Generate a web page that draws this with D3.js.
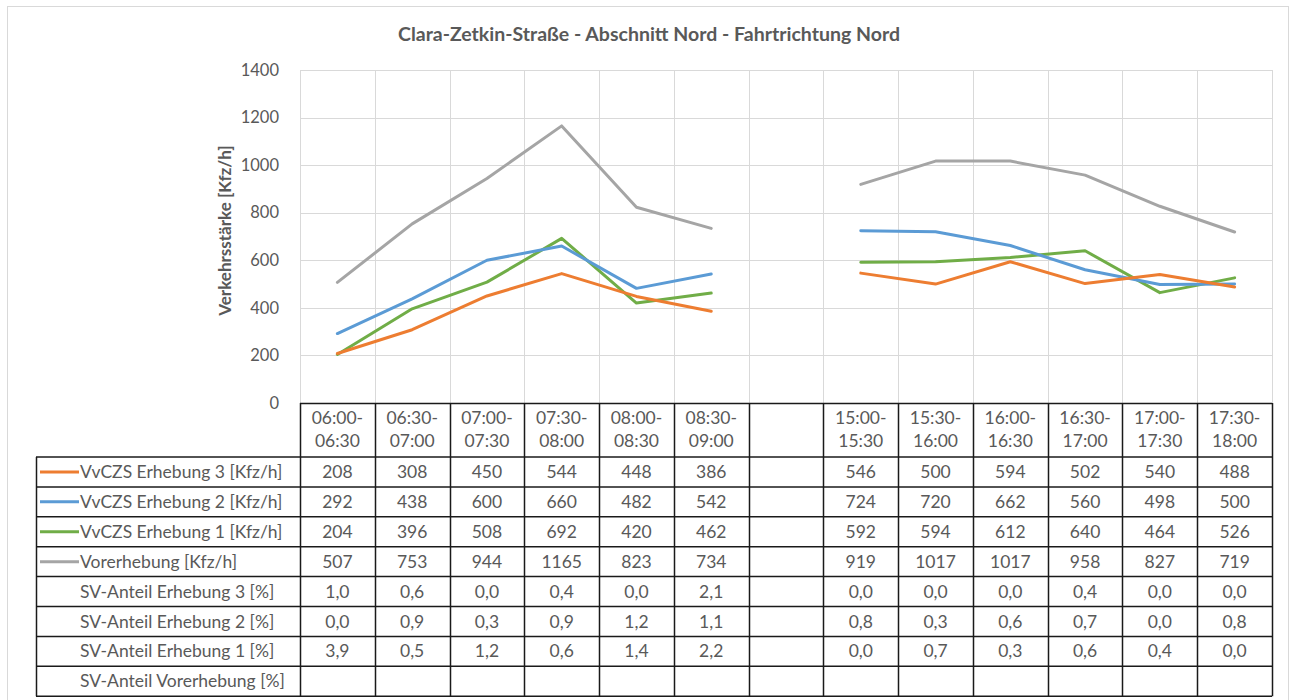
<!DOCTYPE html>
<html>
<head>
<meta charset="utf-8">
<script src="https://cdn.jsdelivr.net/npm/d3@7"></script>
<style>
  html, body { margin: 0; padding: 0; background: #fff; }
  svg { display: block; font-family: Lato, "Open Sans", sans-serif; }
</style>
</head>
<body>
<svg id="chart" width="1293" height="700"></svg>
<script>
// ---- data ----
const categories = ["06:00-06:30", "06:30-07:00", "07:00-07:30", "07:30-08:00", "08:00-08:30", "08:30-09:00", "",
                    "15:00-15:30", "15:30-16:00", "16:00-16:30", "16:30-17:00", "17:00-17:30", "17:30-18:00"];
const erhebung3 = [208, 308, 450, 544, 448, 386, null, 546, 500, 594, 502, 540, 488];
const erhebung2 = [292, 438, 600, 660, 482, 542, null, 724, 720, 662, 560, 498, 500];
const erhebung1 = [204, 396, 508, 692, 420, 462, null, 592, 594, 612, 640, 464, 526];
const vorerhebung = [507, 753, 944, 1165, 823, 734, null, 919, 1017, 1017, 958, 827, 719];
const svAnteil3 = [1.0, 0.6, 0.0, 0.4, 0.0, 2.1, null, 0.0, 0.0, 0.0, 0.4, 0.0, 0.0];
const svAnteil2 = [0.0, 0.9, 0.3, 0.9, 1.2, 1.1, null, 0.8, 0.3, 0.6, 0.7, 0.0, 0.8];
const svAnteil1 = [3.9, 0.5, 1.2, 0.6, 1.4, 2.2, null, 0.0, 0.7, 0.3, 0.6, 0.4, 0.0];
const svAnteilVor = [null, null, null, null, null, null, null, null, null, null, null, null, null];
const yTicks = [0, 200, 400, 600, 800, 1000, 1200, 1400];

const title = "Clara-Zetkin-Straße - Abschnitt Nord - Fahrtrichtung Nord";
const yLabel = "Verkehrsstärke [Kfz/h]";

const lineSeries = [
  { name: "VvCZS Erhebung 3 [Kfz/h]", values: erhebung3, color: "#ED7D31" },
  { name: "VvCZS Erhebung 2 [Kfz/h]", values: erhebung2, color: "#5B9BD5" },
  { name: "VvCZS Erhebung 1 [Kfz/h]", values: erhebung1, color: "#70AD47" },
  { name: "Vorerhebung [Kfz/h]", values: vorerhebung, color: "#A5A5A5" }
];
const pctRows = [
  { name: "SV-Anteil Erhebung 3 [%]", values: svAnteil3 },
  { name: "SV-Anteil Erhebung 2 [%]", values: svAnteil2 },
  { name: "SV-Anteil Erhebung 1 [%]", values: svAnteil1 },
  { name: "SV-Anteil Vorerhebung [%]", values: svAnteilVor }
];

// ---- layout ----
const svg = d3.select("#chart");
const textColor = "#595959";
const gridColor = "#d9d9d9";
const plotLeft = 300, plotRight = 1272, plotTop = 70, plotBottom = 403;
const tableLeft = 36;
const headerBottom = 457, rowH = 29.9;
const tableFont = 17.5;

const x = d3.scaleBand().domain(d3.range(categories.length)).range([plotLeft, plotRight]).padding(0);
const y = d3.scaleLinear().domain([0, 1400]).range([plotBottom, plotTop]);

// outer border
svg.append("rect").attr("x", 7.5).attr("y", 6.5).attr("width", 1281).attr("height", 710)
  .attr("fill", "none").attr("stroke", gridColor).attr("stroke-width", 1);

// title
svg.append("text").attr("x", 649).attr("y", 41).attr("text-anchor", "middle")
  .attr("font-size", 19.5).attr("font-weight", "bold").attr("fill", textColor).text(title);

// horizontal gridlines
svg.append("g").selectAll("line").data(yTicks).join("line")
  .attr("x1", plotLeft).attr("x2", plotRight)
  .attr("y1", d => Math.round(y(d)) + 0.5).attr("y2", d => Math.round(y(d)) + 0.5)
  .attr("stroke", gridColor).attr("stroke-width", 1);

// vertical gridlines
const bounds = d3.range(categories.length + 1).map(i => i < categories.length ? x(i) : plotRight);
svg.append("g").selectAll("line").data(bounds).join("line")
  .attr("x1", d => Math.round(d) + 0.5).attr("x2", d => Math.round(d) + 0.5)
  .attr("y1", plotTop).attr("y2", plotBottom)
  .attr("stroke", gridColor).attr("stroke-width", 1);

// y axis
const yAxis = svg.append("g").attr("transform", `translate(${plotLeft},0)`)
  .call(d3.axisLeft(y).tickValues(yTicks).tickSize(0).tickPadding(21).tickFormat(d3.format("d")));
yAxis.select(".domain").remove();
yAxis.selectAll("text").attr("font-size", 16.5).attr("fill", textColor).attr("font-family", "Lato, sans-serif");

// y label
svg.append("text").attr("transform", `translate(231,${(plotTop + plotBottom) / 2 - 6}) rotate(-90)`)
  .attr("text-anchor", "middle").attr("font-size", 17).attr("font-weight", "bold").attr("fill", textColor)
  .text(yLabel);

// lines
const line = d3.line().defined(d => d != null)
  .x((d, i) => x(i) + x.bandwidth() / 2).y(d => y(d));
svg.append("g").selectAll("path").data(lineSeries.slice().reverse()).join("path")
  .attr("d", s => line(s.values)).attr("fill", "none").attr("stroke", s => s.color)
  .attr("stroke-width", 3).attr("stroke-linejoin", "round").attr("stroke-linecap", "round");

// ---- data table ----
const tableColor = "#1a1a1a";
const tbl = svg.append("g");
const rows = lineSeries.map(s => ({ name: s.name, color: s.color, cells: s.values.map(v => v == null ? "" : String(v)) }))
  .concat(pctRows.map(r => ({ name: r.name, color: null, cells: r.values.map(v => v == null ? "" : d3.format(".1f")(v).replace(".", ",")) })));
const tableBottom = headerBottom + rowH * rows.length;

tbl.append("line").attr("x1", plotLeft).attr("x2", plotRight).attr("y1", plotBottom + 0.5).attr("y2", plotBottom + 0.5)
  .attr("stroke", tableColor).attr("stroke-width", 1.5);
const rowLines = d3.range(rows.length + 1).map(i => headerBottom + i * rowH);
tbl.selectAll(".rl").data(rowLines).join("line")
  .attr("x1", tableLeft).attr("x2", plotRight).attr("y1", d => d).attr("y2", d => d)
  .attr("stroke", tableColor).attr("stroke-width", 1.5);
tbl.selectAll(".vl").data(bounds).join("line")
  .attr("x1", d => Math.round(d) + 0.5).attr("x2", d => Math.round(d) + 0.5)
  .attr("y1", plotBottom).attr("y2", tableBottom)
  .attr("stroke", tableColor).attr("stroke-width", 1.5);
tbl.append("line").attr("x1", tableLeft + 0.5).attr("x2", tableLeft + 0.5).attr("y1", headerBottom).attr("y2", tableBottom)
  .attr("stroke", tableColor).attr("stroke-width", 1.5);

// header labels
categories.forEach((c, i) => {
  if (!c) return;
  const parts = [c.slice(0, 6), c.slice(6)];
  const cx = x(i) + x.bandwidth() / 2;
  tbl.append("text").attr("x", cx).attr("y", 418).attr("dy", "0.35em").attr("text-anchor", "middle")
    .attr("font-size", tableFont).attr("fill", textColor).text(parts[0]);
  tbl.append("text").attr("x", cx).attr("y", 441).attr("dy", "0.35em").attr("text-anchor", "middle")
    .attr("font-size", tableFont).attr("fill", textColor).text(parts[1]);
});

// rows
rows.forEach((r, ri) => {
  const cy = headerBottom + ri * rowH + rowH / 2;
  if (r.color) {
    tbl.append("line").attr("x1", 40).attr("x2", 79).attr("y1", cy).attr("y2", cy)
      .attr("stroke", r.color).attr("stroke-width", 3);
  }
  tbl.append("text").attr("x", 80).attr("y", cy).attr("dy", "0.35em")
    .attr("font-size", tableFont).attr("fill", textColor).text(r.name);
  r.cells.forEach((v, i) => {
    if (!v) return;
    tbl.append("text").attr("x", x(i) + x.bandwidth() / 2).attr("y", cy).attr("dy", "0.35em")
      .attr("text-anchor", "middle").attr("font-size", tableFont).attr("fill", textColor).text(v);
  });
});
</script>
</body>
</html>
